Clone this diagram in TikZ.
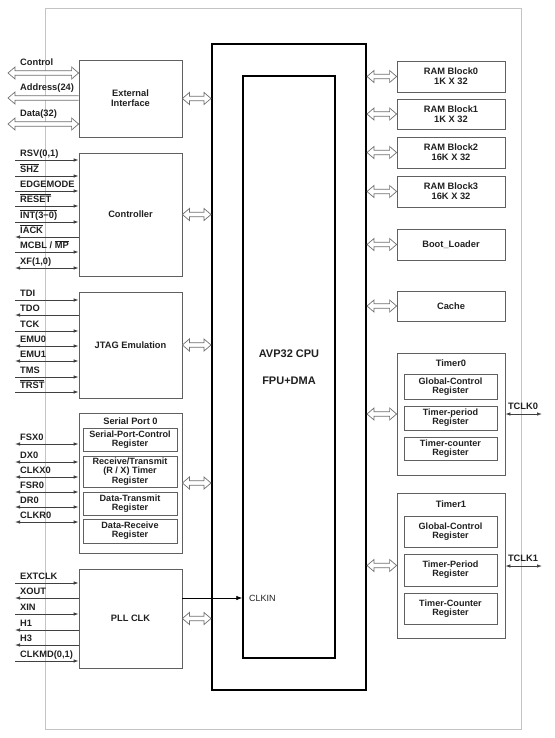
\documentclass[tikz,border=0pt]{standalone}
\usepackage{fontspec}
\setmainfont{Liberation Sans}
\usetikzlibrary{arrows.meta,calc}
\newcommand\olx[1]{$\overline{\mbox{#1}}$}
\definecolor{boxc}{HTML}{606060}
\definecolor{txt}{HTML}{202020}
\definecolor{sigc}{HTML}{404040}
\definecolor{frm}{HTML}{C4C4C4}
\definecolor{holc}{HTML}{707070}
% hollow double-headed bus arrow between two points (horizontal)
\newcommand\hdbl[2]{\draw[holline] let \p1=(#1), \p2=(#2) in
  (\x1,\y1) -- (\x1+7pt,\y1-6pt) -- (\x1+7pt,\y1-2.2pt) -- (\x2-7pt,\y1-2.2pt) -- (\x2-7pt,\y1-6pt)
  -- (\x2,\y1) -- (\x2-7pt,\y1+6pt) -- (\x2-7pt,\y1+2.2pt) -- (\x1+7pt,\y1+2.2pt) -- (\x1+7pt,\y1+6pt) -- cycle;}
% hollow single-headed (head at first point)
\newcommand\hsgl[2]{\draw[holline] let \p1=(#1), \p2=(#2) in
  (\x2,\y1-2.2pt) -- (\x1+7pt,\y1-2.2pt) -- (\x1+7pt,\y1-6pt) -- (\x1,\y1) -- (\x1+7pt,\y1+6pt)
  -- (\x1+7pt,\y1+2.2pt) -- (\x2,\y1+2.2pt);}
\begin{document}
\begin{tikzpicture}[x=1pt,y=-1pt,
  font=\fontsize{9.3}{10.2}\selectfont\bfseries, text=txt,
  box/.style={draw=boxc, line width=0.8pt, align=center, inner sep=1pt},
  reg/.style={box, minimum width=94, align=center, inner sep=0pt, font=\fontsize{9.1}{9.3}\selectfont\bfseries},
  rbox/.style={box, minimum width=108},
  holline/.style={draw=holc, line width=0.7pt, fill=white, line join=miter},
  sig/.style={draw=sigc, line width=0.8pt},
  sr/.style={sig, -{Latex[length=5pt,width=3.5pt]}},
  sl/.style={sig, {Latex[length=5pt,width=3.5pt]}-},
  sd/.style={sig, {Latex[length=5pt,width=3.5pt]}-{Latex[length=5pt,width=3.5pt]}},
  lab/.style={anchor=base west, inner sep=0pt},
]
\useasboundingbox (0,0) rectangle (554,738);
% light frame
\draw[frm, line width=0.9pt] (45,8) rectangle (521,729);

% CPU
\node[draw=black, line width=2pt, minimum width=154, minimum height=646] (cpu) at (289,367) {};
\node[draw=black, line width=1.4pt, minimum width=92, minimum height=582, font=\fontsize{11}{13}\selectfont\bfseries, align=center] (core) at (289,367) {AVP32 CPU\\[14pt]FPU+DMA};

% left boxes
\node[box, minimum width=103, minimum height=77] (ext) at (130.5,98.5) {External\\Interface};
\node[box, minimum width=103, minimum height=123] (ctrl) at (130.5,214.5) {Controller};
\node[box, minimum width=103, minimum height=106] (jtag) at (130.5,345) {JTAG Emulation};
\node[box, minimum width=103, minimum height=140] (sp) at (130.5,483) {};
\node[inner sep=0pt] (sptitle) at (130.5,421.5) {Serial Port 0};
\node[reg, minimum height=23] (sp1) at (130,439.5) {Serial-Port-Control\\Register};
\node[reg, minimum height=31] (sp2) at (130,471.5) {Receive/Transmit\\(R / X) Timer\\Register};
\node[reg, minimum height=23] (sp3) at (130,503.5) {Data-Transmit\\Register};
\node[reg, minimum height=24] (sp4) at (130,531) {Data-Receive\\Register};
\node[box, minimum width=103, minimum height=99] (pll) at (130.5,618.5) {PLL CLK};

% right boxes
\node[rbox, minimum height=31] (ram0) at (451,76.5) {RAM Block0\\1K X 32};
\node[rbox, minimum height=30] (ram1) at (451,114) {RAM Block1\\1K X 32};
\node[rbox, minimum height=31] (ram2) at (451,152.5) {RAM Block2\\16K X 32};
\node[rbox, minimum height=31] (ram3) at (451,191.5) {RAM Block3\\16K X 32};
\node[rbox, minimum height=31] (boot) at (451,244.5) {Boot\_Loader};
\node[rbox, minimum height=30] (cache) at (451,306) {Cache};

\node[rbox, minimum height=122] (t0) at (451,414) {};
\node[inner sep=0pt] (t0title) at (451,363) {Timer0};
\node[reg, minimum width=93, minimum height=25] (t0a) at (450.5,386.5) {Global-Control\\Register};
\node[reg, minimum width=93, minimum height=24] (t0b) at (450.5,418) {Timer-period\\Register};
\node[reg, minimum width=93, minimum height=23] (t0c) at (450.5,448.5) {Timer-counter\\Register};

\node[rbox, minimum height=145] (t1) at (451,565.5) {};
\node[inner sep=0pt] (t1title) at (451,504) {Timer1};
\node[reg, minimum width=93, minimum height=31] (t1a) at (450.5,531.5) {Global-Control\\Register};
\node[reg, minimum width=93, minimum height=32] (t1b) at (450.5,570) {Timer-Period\\Register};
\node[reg, minimum width=93, minimum height=31] (t1c) at (450.5,608.5) {Timer-Counter\\Register};

% hollow bus arrows
\foreach \nm in {ext,ctrl,jtag,sp,pll}
  \hdbl{\nm.east}{\nm.east -| cpu.west};
\foreach \nm in {ram0,ram1,ram2,ram3,boot,cache,t0,t1}
  \hdbl{\nm.west -| cpu.east}{\nm.west};

% CLKIN
\coordinate (pllo) at (pll.east |- 0,598);
\draw[line width=0.8pt, draw=black, -{Latex[length=6pt,width=4.5pt]}] (pllo) -- (pllo -| core.west);
\node[anchor=west, inner sep=0pt, font=\fontsize{9}{10}\selectfont] (clkin) at (249,598) {CLKIN};

% TCLK
\coordinate (tc0) at (542,414);
\coordinate (tc1) at (542,566);
\draw[sd] (t0.east |- tc0) -- (tc0);
\draw[sd] (t1.east |- tc1) -- (tc1);
\node[anchor=base, inner sep=0pt] (lt0) at (523,409) {TCLK0};
\node[anchor=base, inner sep=0pt] (lt1) at (523,561) {TCLK1};

% external interface signals
\coordinate (e1) at (8,73);
\coordinate (e2) at (8,98);
\coordinate (e3) at (8,124);
\hdbl{e1}{e1 -| ext.west}
\hsgl{e2}{e2 -| ext.west}
\hdbl{e3}{e3 -| ext.west}
\node[lab] (le1) at (20,66) {Control};
\node[lab] (le2) at (20,91) {Address(24)};
\node[lab] (le3) at (20,117) {Data(32)};

% controller signals
\foreach \y/\st/\t [count=\i] in {160/sr/{RSV(0,1)}, 176/sr/{\olx{SHZ}}, 191/sr/EDGEMODE, 206/sr/{\olx{RESET}}, 222/sr/{\olx{INT(3\textminus0)}}, 237/sl/{\olx{IACK}}, 252/sr/{MCBL / \olx{MP}}, 268/sd/{XF(1,0)}} {
  \coordinate (c\i) at (15,\y);
  \draw[\st] (c\i) -- (c\i -| ctrl.west);
  \node[lab] (lc\i) at (20,\y-3.5) {\t};
}

% JTAG signals
\foreach \y/\st/\t [count=\i] in {300/sr/TDI, 315/sl/TDO, 331/sr/TCK, 346/sd/EMU0, 361/sd/EMU1, 377/sr/TMS, 392/sr/{\olx{TRST}}} {
  \coordinate (j\i) at (15,\y);
  \draw[\st] (j\i) -- (j\i -| jtag.west);
  \node[lab] (lj\i) at (20,\y-3.5) {\t};
}

% serial port signals
\foreach \y/\t [count=\i] in {444/FSX0, 462/DX0, 477/CLKX0, 492/FSR0, 507/DR0, 522/CLKR0} {
  \coordinate (p\i) at (15,\y);
  \draw[sd] (p\i) -- (p\i -| sp.west);
  \node[lab] (lp\i) at (20,\y-3.5) {\t};
}

% PLL signals
\foreach \y/\st/\t [count=\i] in {583/sr/EXTCLK, 598/sl/XOUT, 614/sr/XIN, 630/sl/H1, 645/sl/H3, 661/sr/{CLKMD(0,1)}} {
  \coordinate (k\i) at (15,\y);
  \draw[\st] (k\i) -- (k\i -| pll.west);
  \node[lab] (lk\i) at (20,\y-3.5) {\t};
}
\end{tikzpicture}
\end{document}
